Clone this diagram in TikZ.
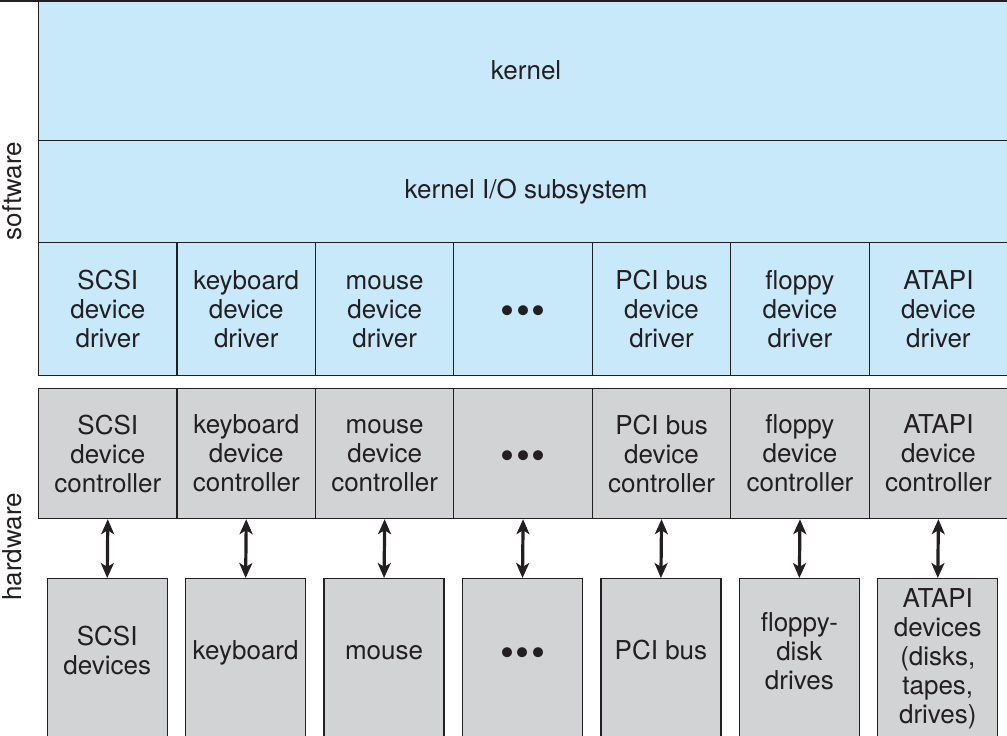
\documentclass[tikz,border=0pt]{standalone}
\usepackage{fontspec}
\setmainfont{TeX Gyre Heros}
\usetikzlibrary{arrows.meta,positioning}
\definecolor{SoftBlue}{RGB}{200,233,250}
\definecolor{HardGray}{RGB}{209,211,212}
\definecolor{EdgeCol}{RGB}{35,31,32}
\newcommand{\threedots}{{\fontsize{40}{29}\selectfont\raisebox{-15.8pt}[0pt][0pt]{\textbullet\kern1.5pt\textbullet\kern1.5pt\textbullet}}}

\begin{document}
\begin{tikzpicture}[
  x=1pt, y=-1pt,
  >={Stealth[length=15pt,width=13pt,inset=4pt]},
  every node/.style={font=\fontsize{26}{29}\selectfont, align=center, inner sep=0pt, text=EdgeCol},
  layer/.style={draw=EdgeCol, line width=1.2pt, fill=SoftBlue, minimum width=975pt, anchor=north west},
  drvbox/.style={draw=EdgeCol, line width=1.2pt, fill=SoftBlue, minimum width=138.43pt, minimum height=133pt, anchor=north west},
  ctlbox/.style={draw=EdgeCol, line width=1.2pt, fill=HardGray, minimum width=138.43pt, minimum height=130pt, anchor=north west},
  devbox/.style={draw=EdgeCol, line width=1.2pt, fill=HardGray, minimum width=120pt, minimum height=175pt, anchor=north},
  link/.style={<->, line width=3.2pt, draw=EdgeCol}
]
  \useasboundingbox (0,0) rectangle (1007,736);
  \clip (0,0) rectangle (1007,736);

  % Software layers
  \node[layer, minimum height=140pt] (kernel) at (38,0)   {kernel};
  \node[layer, minimum height=102pt] (kio)    at (38,140) {kernel I/O subsystem};
  \draw[line width=2pt, EdgeCol] (0,1) -- (1007,1);

  % Drivers, controllers and devices, one column each
  \foreach \drv/\ctl/\dev/\dy [count=\i] in {
      {SCSI\\device\\driver}/{SCSI\\device\\controller}/{SCSI\\devices}/72,
      {keyboard\\device\\driver}/{keyboard\\device\\controller}/{keyboard}/75,
      {\vphantom{I}mouse\\device\\driver}/{\vphantom{I}mouse\\device\\controller}/{mouse}/75,
      {\threedots}/{\threedots}/{\threedots}/73,
      {PCI bus\\device\\driver}/{PCI bus\\device\\controller}/{PCI bus}/72,
      {floppy\\device\\driver}/{floppy\\device\\controller}/{floppy-\\disk\\drives}/73,
      {ATAPI\\device\\driver}/{ATAPI\\device\\controller}/{ATAPI\\devices\\(disks,\\tapes,\\drives)}/81}{
    \node[drvbox] (drv\i) at ({38+(\i-1)*138.43},242) {\drv};
    \node[ctlbox] (ctl\i) at ({38+(\i-1)*138.43},388) {\ctl};
    \node[devbox] (dev\i) at ({38+(\i-0.5)*138.43},578) {};
    \node[yshift=-\dy pt] (devtxt\i) at (dev\i.north) {\dev};
    \draw[link] (ctl\i.south) -- (dev\i.north);
  }

  % Side labels
  \node[rotate=90] (sw) at (12,191) {software};
  \node[rotate=90] (hw) at (12,547) {hardware};
\end{tikzpicture}
\end{document}
